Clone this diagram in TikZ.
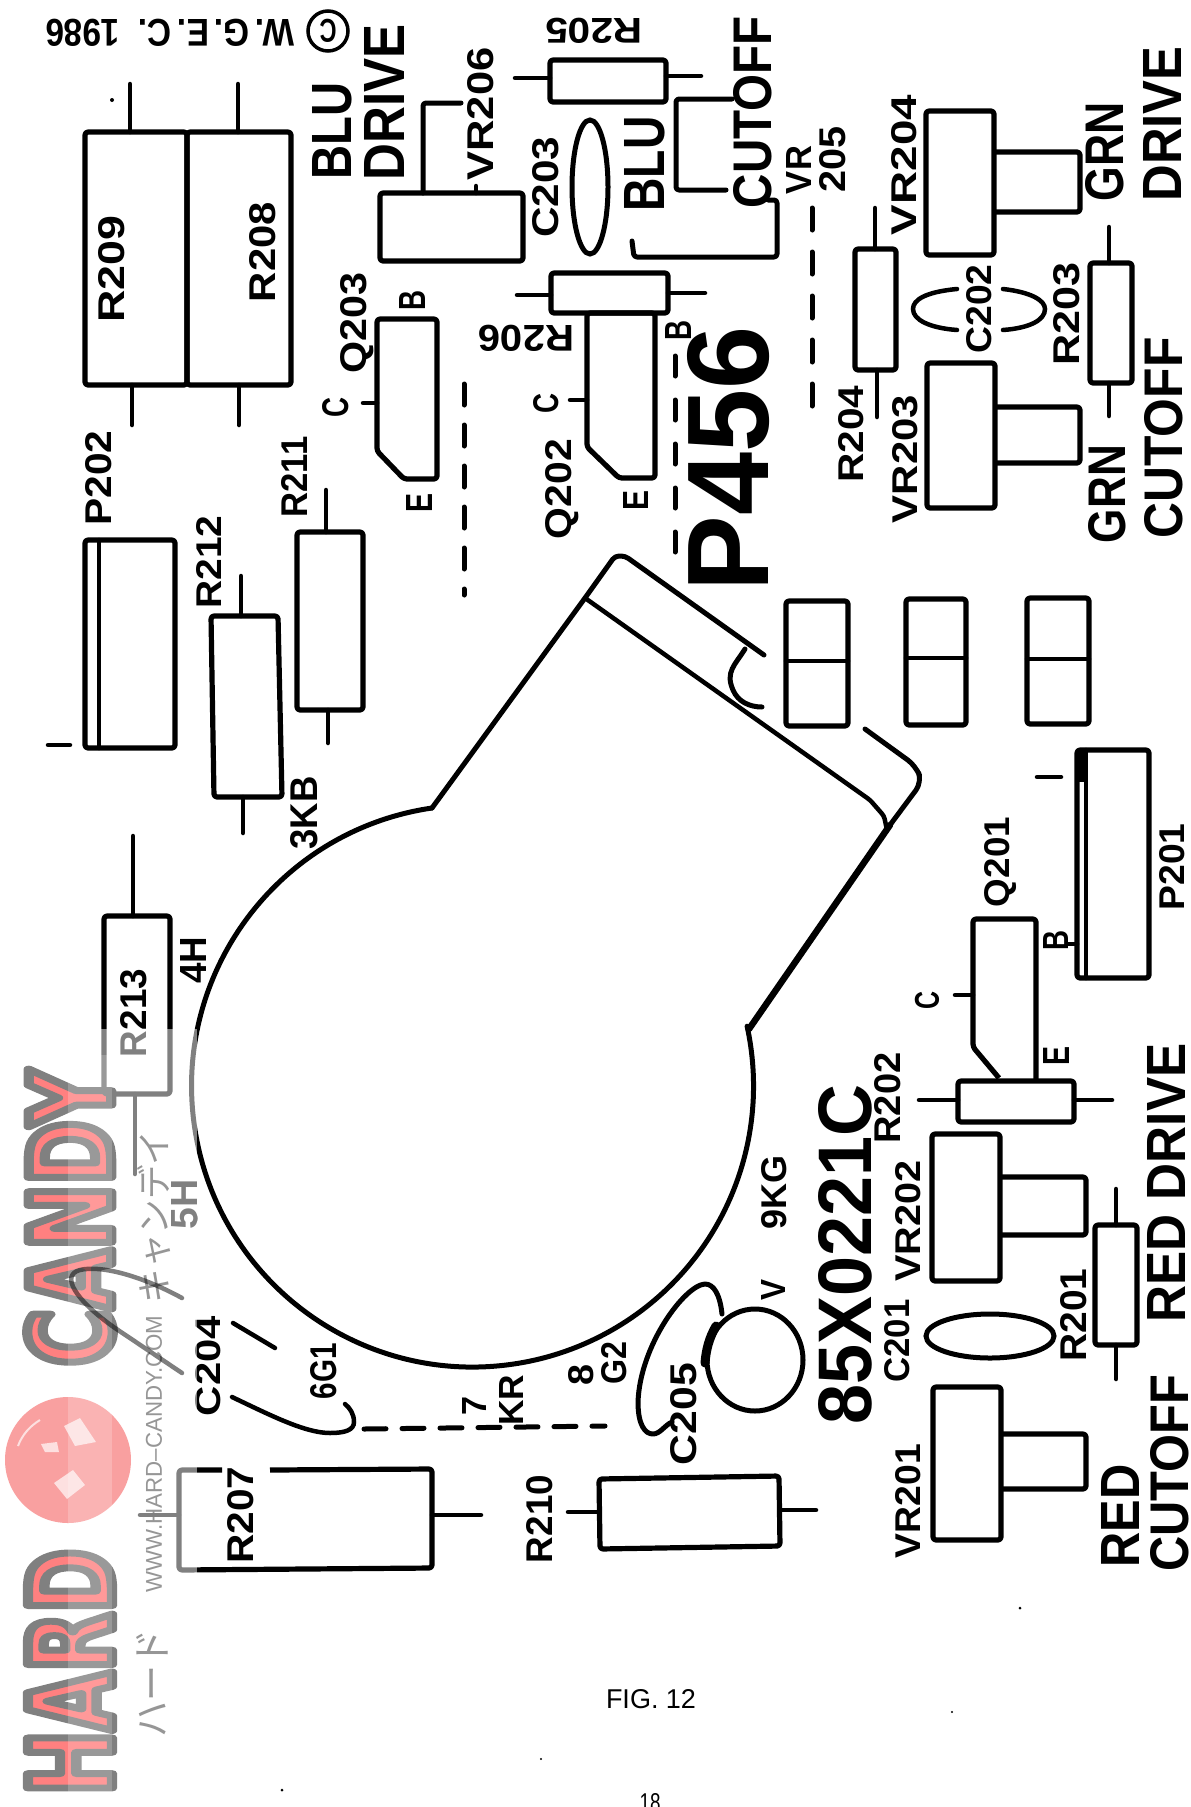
\documentclass[tikz,border=0pt]{standalone}
\usepackage{graphicx}
\usepackage{fontspec}
\setmainfont{Liberation Sans}
\newfontfamily\wmfont{DejaVu Sans}[BoldFeatures={FakeBold=9}]
\newfontfamily\cjkjp{Noto Sans CJK JP}
\definecolor{wmred}{RGB}{255,0,0}
\definecolor{wmball}{RGB}{243,65,65}
\definecolor{wmspot}{RGB}{251,193,193}
\definecolor{wmgray}{RGB}{45,45,45}
\newcommand\lbl[7]{\node[lab,rotate=#4] (#1) at (#2,#3) {\resizebox{#5pt}{#6pt}{#7}};}
\newcommand\logotext[1]{{\color{wmred}\special{pdf:code 0 0 0 RG 1 j}\wmfont\bfseries #1}}
\tikzset{
  lab/.style={inner sep=0pt,outer sep=0pt,font=\bfseries},
  comp/.style={draw=black,line width=5.2pt,rounded corners=3pt,line join=round},
  lead/.style={draw=black,line width=4.5pt,line cap=round},
  wire/.style={draw=black,line width=5pt,line cap=round,line join=round,rounded corners=3pt},
  dashline/.style={draw=black,line width=5pt,line cap=round},
  speck/.style={fill=black}
}
\begin{document}
\begin{tikzpicture}[x=1pt,y=-1pt]
\path[use as bounding box] (0,0) rectangle (1191,1807);
\clip (0,0) rectangle (1191,1807);
\fill[white] (0,0) rectangle (1191,1807);
% ---- watermark (drawn dark, lightened by the veil further down)
\lbl{wmcandy}{70}{1218}{90}{296}{84}{\logotext{CANDY}}
\lbl{wmhard}{70}{1672}{90}{246}{84}{\logotext{HARD}}
\fill[wmball] (68,1460) circle (63);
\fill[wmspot] (64,1426)--(80,1418)--(96,1442)--(75,1446)--cycle;
\fill[wmspot] (41,1444)--(57,1442)--(59,1452)--(45,1452)--cycle;
\fill[wmspot] (54,1483)--(73,1470)--(85,1485)--(67,1499)--cycle;
\draw[wmspot,line width=2pt] (18,1446) .. controls (22,1435) and (30,1426) .. (40,1420);
\node[lab,rotate=90,font=\mdseries,text=wmgray] (wmurl) at (154,1454) {\resizebox{277pt}{16pt}{WWW.HARD--CANDY.COM}};
\node[lab,rotate=90,font=\mdseries,text=wmgray] (wmja) at (152,1683) {\resizebox{108pt}{30pt}{\cjkjp ハード}};
\node[lab,rotate=90,font=\mdseries,text=wmgray] (wmjb) at (154,1217) {\resizebox{173pt}{30pt}{\cjkjp キャンデイ}};
% ---- CRT outline
\draw[wire,line width=5pt,rounded corners=0pt] (432,808) arc[start angle=98.3,end angle=372.3,radius=281pt];
\draw[wire,line width=6.5pt,rounded corners=0pt] (749,1029) -- (890,825);
\draw[wire,rounded corners=4pt] (432,808) -- (585,598) -- (615,556) -- (625,556) -- (764,655);
\draw[wire,line width=4.5pt] (585,598) -- (870,800) -- (884,816) -- (887,830);
\draw[wire,rounded corners=0pt,line width=5pt] (745,649) .. controls (735,665) and (725,672) .. (733,690) .. controls (738,702) and (750,707) .. (762,707);
\draw[wire,rounded corners=10pt] (890,825) -- (922,782) -- (916,766) -- (865,729);
% ---- three double boxes
\draw[comp] (786,601) rectangle (848,726); \draw[lead] (786,661) -- (848,661);
\draw[comp] (906,599) rectangle (966,725); \draw[lead] (906,658) -- (966,658);
\draw[comp] (1027,598) rectangle (1089,724); \draw[lead] (1027,659) -- (1089,659);
% ---- large resistors
\draw[comp] (85,132) rectangle (187,385);
\draw[comp] (187,132) rectangle (291,385);
\draw[lead] (130,84) -- (130,132); \draw[lead] (132,385) -- (132,425);
\draw[lead] (238,84) -- (238,132); \draw[lead] (239,385) -- (239,425);
% ---- VR206 and bracket
\draw[comp] (380,193) rectangle (523,261);
\draw[wire] (423,193) -- (423,103) -- (461,103);
\draw[lead] (476,186) -- (476,193);
% ---- R205, R206
\draw[comp] (550,60) rectangle (666,102);
\draw[lead] (515,78) -- (550,78); \draw[lead] (666,76) -- (701,76);
\draw[comp] (551,273) rectangle (668,313);
\draw[lead] (517,295) -- (551,295); \draw[lead] (668,293) -- (705,293);
% ---- C203
\draw[line width=5pt] (590,187) ellipse [x radius=18pt,y radius=67pt];
% ---- brackets for BLU CUTOFF
\draw[wire] (732,99) -- (676,99) -- (676,190) -- (726,190);
\draw[wire] (632,241) -- (634,257) -- (777,257) -- (777,200) -- (768,200);
% ---- Q203, Q202
\draw[comp] (377,319) -- (437,319) -- (437,479) -- (404,479) -- (377,451) -- cycle;
\draw[lead] (363,403) -- (377,403);
\draw[comp] (587,313) -- (655,313) -- (655,478) -- (619,478) -- (587,447) -- cycle;
\draw[lead] (570,400) -- (587,400);
% ---- dashed lines
\draw[dashline,dash pattern=on 21pt off 20pt] (464,384) -- (464,595);
\draw[dashline,dash pattern=on 20pt off 24pt] (675,356) -- (675,570);
\draw[dashline,dash pattern=on 22pt off 22pt] (812,208) -- (812,417);
\draw[dashline,dash pattern=on 22pt off 16pt] (364,1429) -- (605,1426);
% ---- P202, R211, R212, R213
\draw[comp] (85,540) rectangle (175,748);
\draw[lead] (99,540) -- (99,748);
\draw[lead] (48,745) -- (70,745);
\draw[comp] (297,532) rectangle (363,710);
\draw[lead] (326,490) -- (326,532); \draw[lead] (328,710) -- (328,743);
\draw[comp] (211,616) -- (278,616) -- (282,797) -- (214,797) -- cycle;
\draw[lead] (241,576) -- (241,616); \draw[lead] (243,797) -- (243,833);
\draw[comp] (104,916) rectangle (170,1094);
\draw[lead] (133,836) -- (133,916); \draw[lead] (135,1094) -- (135,1174);
% ---- VR204, VR203 with knobs
\draw[comp] (994,152) -- (1080,152) -- (1080,212) -- (994,212);
\draw[comp] (926,111) rectangle (994,255);
\draw[comp] (995,407) -- (1080,407) -- (1080,463) -- (995,463);
\draw[comp] (927,363) rectangle (995,508);
% ---- R204, R203, C202
\draw[comp] (855,249) rectangle (896,370);
\draw[lead] (875,208) -- (875,249); \draw[lead] (877,370) -- (877,417);
\draw[comp] (1090,263) rectangle (1132,383);
\draw[lead] (1109,227) -- (1109,263); \draw[lead] (1109,383) -- (1109,416);
\draw[lead] (957,289) .. controls (925,292) and (913,300) .. (913,309) .. controls (913,320) and (930,328) .. (957,330);
\draw[lead] (1003,289) .. controls (1030,292) and (1045,300) .. (1045,309) .. controls (1045,320) and (1030,328) .. (1003,330);
% ---- P201, Q201, R202
\draw[comp] (1077,750) rectangle (1149,978);
\fill[black] (1076,749) rectangle (1088,782);
\draw[lead] (1086,750) -- (1086,978);
\draw[lead] (1037,777) -- (1061,777);
\draw[lead] (1068,944) -- (1077,944);
\draw[comp] (999,1078) -- (973,1047) -- (973,919) -- (1036,919) -- (1036,1080);
\draw[lead] (955,995) -- (973,995);
\draw[comp] (958,1081) rectangle (1074,1122);
\draw[lead] (919,1100) -- (958,1100); \draw[lead] (1074,1100) -- (1112,1100);
% ---- VR202, VR201, R201, C201
\draw[comp] (1000,1177) -- (1086,1177) -- (1086,1235) -- (1000,1235);
\draw[comp] (932,1134) rectangle (1000,1281);
\draw[comp] (1001,1434) -- (1086,1434) -- (1086,1489) -- (1001,1489);
\draw[comp] (933,1387) rectangle (1001,1540);
\draw[comp] (1095,1225) rectangle (1137,1345);
\draw[lead] (1116,1189) -- (1116,1225); \draw[lead] (1116,1345) -- (1116,1379);
\draw[line width=5pt] (990,1336) ellipse [x radius=64pt,y radius=22pt];
% ---- V socket and C205
\draw[line width=5pt] (755,1360) ellipse [x radius=48pt,y radius=51pt];
\draw[line width=9pt,line cap=round] (716,1326) .. controls (709,1338) and (706,1350) .. (705,1363);
\draw[wire,rounded corners=0pt] (722,1314) .. controls (720,1295) and (714,1284) .. (705,1284) .. controls (685,1285) and (640,1345) .. (638,1402) .. controls (638,1425) and (645,1434) .. (653,1434) .. controls (660,1434) and (665,1425) .. (672,1422);
% ---- C204 strokes
\draw[lead] (233,1323) -- (275,1348);
\draw[lead] (232,1397) .. controls (270,1415) and (305,1433) .. (330,1433) .. controls (345,1433) and (354,1430) .. (354,1422) .. controls (354,1414) and (350,1408) .. (345,1404);
% ---- R207, R210
\draw[comp] (222,1470) -- (179,1470) -- (179,1570) -- (432,1568) -- (432,1469) -- (270,1470);
\draw[lead] (140,1515) -- (179,1515); \draw[lead] (432,1515) -- (481,1515);
\draw[comp] (599,1479) -- (779,1476) -- (780,1546) -- (600,1549) -- cycle;
\draw[lead] (568,1512) -- (599,1512); \draw[lead] (780,1510) -- (816,1510);
% ---- specks
\fill[speck] (112,100) circle (2);
\fill[speck] (1020,1608) circle (1.5);
\fill[speck] (952,1712) circle (1.2);
\fill[speck] (282,1790) circle (1.5);
\fill[speck] (541,1759) circle (1.2);
% ---- labels
\node[draw,circle,line width=3.5pt,minimum size=40pt,inner sep=0pt,font=\bfseries,rotate=180] (copyc) at (328,31) {\resizebox{17pt}{23pt}{C}};
\lbl{copy}{170}{33}{180}{249}{27}{W.\,G.\,E.\,C.\;\;1986}
\lbl{r209}{111.5}{269}{90}{107}{26}{R209}
\lbl{r208}{263}{252}{90}{100}{26}{R208}
\lbl{vr206}{481}{114}{90}{133}{26}{VR206}
\lbl{c203}{546}{187}{90}{101}{26}{C203}
\lbl{q203}{357}{323}{90}{101}{26}{Q203}
\lbl{b3}{412}{300}{90}{20}{26}{B}
\lbl{c3}{336}{407}{90}{20}{26}{C}
\lbl{e3}{419}{503}{90}{19}{26}{E}
\lbl{p202}{99}{478}{90}{95}{26}{P202}
\lbl{r211}{294}{477}{90}{81}{26}{R211}
\lbl{r212}{209}{562}{90}{93}{25}{R212}
\lbl{r206}{526}{338}{180}{96}{26}{R206}
\lbl{r205}{594}{31}{180}{97}{25}{R205}
\lbl{q202}{562}{489}{90}{100}{26}{Q202}
\lbl{c2}{546}{403}{90}{20}{25}{C}
\lbl{blua}{332}{131}{90}{97}{39}{BLU}
\lbl{drva}{384}{102}{90}{156}{40}{DRIVE}
\lbl{blub}{645}{164}{90}{95}{40}{BLU}
\lbl{cuta}{753}{112}{90}{192}{38}{CUTOFF}
\lbl{vra}{799}{170}{90}{48}{25}{VR}
\lbl{vrb}{833}{159}{90}{66}{26}{205}
\lbl{vr204}{904}{165}{90}{140}{25}{VR204}
\lbl{grna}{1105}{152}{90}{99}{38}{GRN}
\lbl{drvb}{1162}{124}{90}{155}{38}{DRIVE}
\lbl{c202}{979}{309}{90}{89}{25}{C202}
\lbl{r203}{1067}{314}{90}{103}{26}{R203}
\lbl{r204}{851}{434}{90}{97}{25}{R204}
\lbl{vr203}{905}{459}{90}{128}{25}{VR203}
\lbl{grnb}{1107}{494}{90}{98}{37}{GRN}
\lbl{cutb}{1164}{438}{90}{201}{38}{CUTOFF}
\lbl{b2}{678}{330}{90}{20}{26}{B}
\lbl{e2}{636}{500}{90}{20}{25}{E}
\lbl{p456}{729}{459}{90}{265}{81}{P456}
\lbl{q201}{1001}{862}{90}{90}{25}{Q201}
\lbl{p201}{1172}{867}{90}{87}{25}{P201}
\lbl{b1}{1056}{940}{90}{20}{25}{B}
\lbl{c1}{927}{1000}{90}{18}{24}{C}
\lbl{e1}{1056}{1056}{90}{19}{26}{E}
\lbl{r202}{888}{1098}{90}{91}{26}{R202}
\lbl{part}{845}{1254}{90}{340}{53}{85X0221C}
\lbl{kg}{774}{1192}{90}{74}{25}{9KG}
\lbl{vr202}{908}{1221}{90}{121}{25}{VR202}
\lbl{v}{773}{1290}{90}{21}{24}{V}
\lbl{c201}{897}{1341}{90}{83}{25}{C201}
\lbl{r201}{1074}{1315}{90}{93}{26}{R201}
\lbl{reddrv}{1166}{1183}{90}{279}{38}{RED DRIVE}
\lbl{redb}{1120}{1516}{90}{103}{38}{RED}
\lbl{cutc}{1170}{1473}{90}{197}{38}{CUTOFF}
\lbl{vr201}{908}{1501}{90}{114}{25}{VR201}
\lbl{c205}{684}{1414}{90}{102}{26}{C205}
\lbl{gb}{614}{1363}{90}{43}{25}{G2}
\lbl{eight}{581}{1375}{90}{21}{25}{8}
\lbl{c204}{208}{1366}{90}{100}{25}{C204}
\lbl{sixg}{324}{1371}{90}{56}{26}{6G1}
\lbl{seven}{474}{1406}{90}{19}{24}{7}
\lbl{kr}{511}{1400}{90}{51}{24}{KR}
\lbl{r207}{241}{1515}{90}{97}{26}{R207}
\lbl{r210}{540}{1519}{90}{88}{26}{R210}
\lbl{fourh}{193}{960}{90}{47}{26}{4H}
\lbl{threekb}{304}{813}{90}{73}{27}{3KB}
\lbl{r213}{134}{1013}{90}{88}{26}{R213}
\lbl{fiveh}{185}{1204}{90}{50}{26}{5H}
\node[lab,font=\mdseries] (fig) at (651,1699) {\resizebox{90pt}{19pt}{FIG. 12}};
\node[lab,font=\mdseries] (page) at (650,1803) {\resizebox{21pt}{18pt}{18}};
% ---- veil of the watermark
\fill[white,opacity=.5] (0,1029) rectangle (197,1807);
\fill[white,opacity=.2] (68,1055) rectangle (112,1807);
% ---- stroke lying over the logo
\draw[black,opacity=.5,line width=4.5pt,line cap=round] (182,1298) .. controls (140,1275) and (100,1265) .. (80,1270) .. controls (60,1275) and (75,1300) .. (115,1328) -- (182,1373);
\end{tikzpicture}
\end{document}
